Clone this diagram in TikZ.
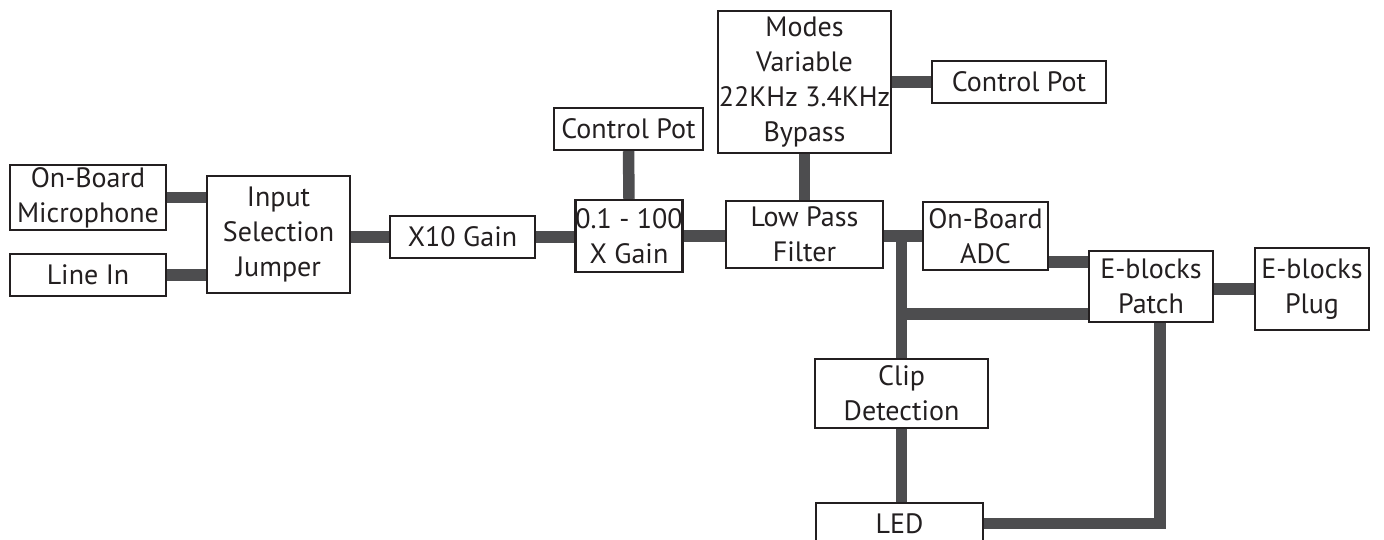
\documentclass[tikz,border=0pt]{standalone}
\usepackage{fontspec}
\setmainfont{PT Sans}
\usepackage{tikz}
\usetikzlibrary{positioning,calc}
\definecolor{BlockLine}{RGB}{35,31,32}
\definecolor{WireGray}{RGB}{77,77,79}

\begin{document}
\begin{tikzpicture}[x=1pt,y=-1pt,font=\fontsize{28}{35}\selectfont,
  block/.style={draw=BlockLine,line width=2.4pt,fill=white,text=BlockLine,align=center,inner sep=0pt},
  wire/.style={WireGray,line width=11.5pt}]
\useasboundingbox (0,0) rectangle (1384,540);
\node[block,minimum width=156pt,minimum height=65pt] (mic) at (88,197.5) {On-Board\\Microphone};
\node[block,minimum width=156pt,minimum height=42pt] (linein) at (88,275) {Line In};
\node[block,minimum width=143pt,minimum height=117pt] (jumper) at (278.5,234.5) {Input\\Selection\\Jumper};
\node[block,minimum width=145pt,minimum height=42pt] (xten) at (462.5,237) {X10 Gain};
\node[block,minimum width=106pt,minimum height=72pt] (vgain) at (629,236) {0.1 - 100\\X Gain};
\node[block,minimum width=149pt,minimum height=42pt] (potgain) at (628.5,129) {Control Pot};
\node[block,minimum width=157pt,minimum height=67pt] (lpf) at (804.5,234.5) {Low Pass\\Filter};
\node[block,minimum width=173pt,minimum height=142pt] (modes) at (804.5,82) {Modes\\Variable\\22KHz 3.4KHz\\Bypass};
\node[block,minimum width=174pt,minimum height=42pt] (potmodes) at (1019,82) {Control Pot};
\node[block,minimum width=125pt,minimum height=68pt] (adc) at (985.5,236) {On-Board\\ADC};
\node[block,minimum width=124pt,minimum height=71pt] (patch) at (1151,286.5) {E-blocks\\Patch};
\node[block,minimum width=114pt,minimum height=82pt] (plug) at (1312,289) {E-blocks\\Plug};
\node[block,minimum width=173pt,minimum height=69pt] (clip) at (901.5,393.5) {Clip\\Detection};
\node[block,minimum width=167pt,minimum height=41pt] (led) at (899.5,523.5) {LED};

\draw[wire] (mic.east) -- (mic.east -| jumper.west);
\draw[wire] (linein.east) -- (linein.east -| jumper.west);
\draw[wire] (jumper.east |- xten.west) -- (xten.west);
\draw[wire] (xten.east) -- (xten.east -| vgain.west);
\draw[wire] (potgain.south) -- (vgain.north);
\draw[wire] (vgain.east) -- (vgain.east -| lpf.west);
\draw[wire] (modes.south) -- (lpf.north);
\draw[wire] (modes.east) -- (potmodes.west);
\draw[wire] (lpf.east |- adc.west) -- (adc.west);
\coordinate (tap) at (clip.north |- adc.west);
\draw[wire] (tap) -- (clip.north);
\coordinate (adcout) at ([yshift=9pt]adc.south east);
\draw[wire] (adcout) -- (adcout -| patch.west);
\coordinate (branch) at ([yshift=9pt]patch.south west);
\draw[wire] (branch) -- (branch -| tap);
\draw[wire] (patch.east |- plug.west) -- (plug.west);
\draw[wire] (clip.south) -- (clip.south |- led.north);
\coordinate (drop) at ([xshift=9pt]patch.south);
\coordinate (corner) at (drop |- led.east);
\draw[wire] (drop) -- (corner) -- (led.east);
\end{tikzpicture}
\end{document}
